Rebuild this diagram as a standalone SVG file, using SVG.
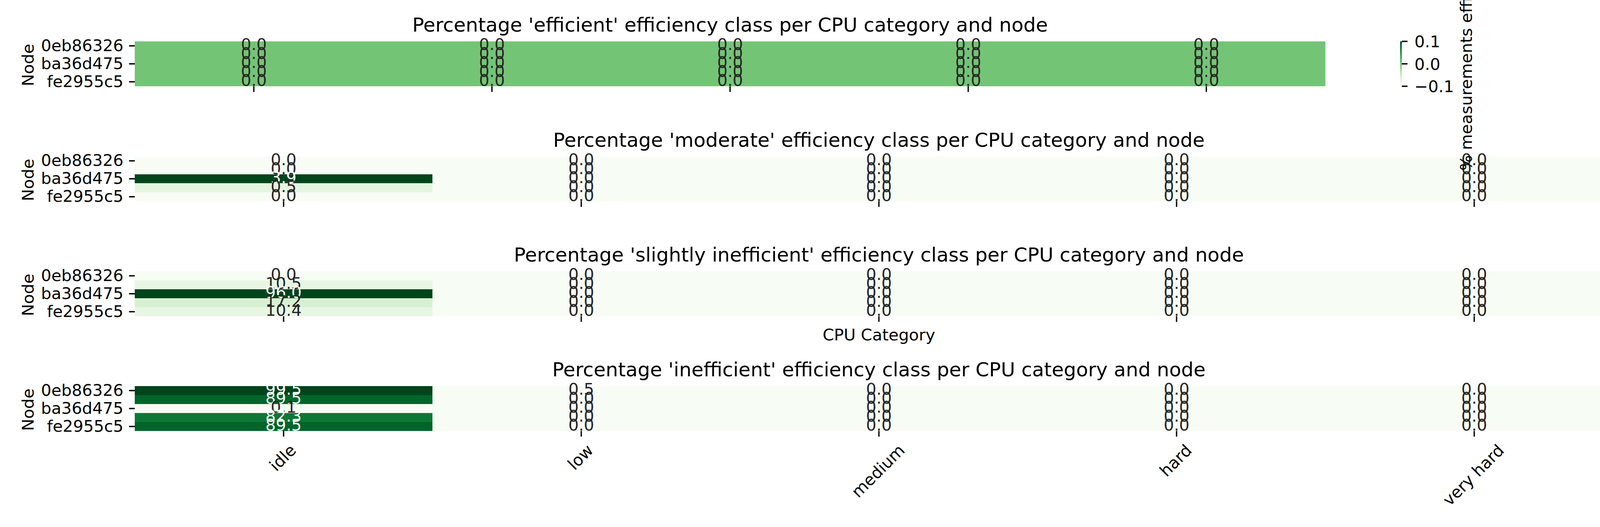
<svg xmlns="http://www.w3.org/2000/svg" width="4200" height="1350" viewBox="0 0 4200 1350">
<defs>
<style>
text { font-family: "DejaVu Sans", "Liberation Sans", sans-serif; }
.lab { font-size: 41.67px; fill: #000; }
.yl { font-size: 41.67px; fill: #000; text-anchor: end; }
.ttl { font-size: 50px; fill: #000; text-anchor: middle; }
.an { font-size: 41.67px; fill: #262626; text-anchor: middle; }
.aw { fill: #ffffff; }
.tk { stroke: #000; stroke-width: 3.33; fill: none; }
.mid { text-anchor: middle; }
</style>
<linearGradient id="greens" x1="0" y1="1" x2="0" y2="0">
<stop offset="0" stop-color="#f7fcf5"/>
<stop offset="0.125" stop-color="#e5f5e0"/>
<stop offset="0.25" stop-color="#c7e9c0"/>
<stop offset="0.375" stop-color="#a1d99b"/>
<stop offset="0.5" stop-color="#74c476"/>
<stop offset="0.625" stop-color="#41ab5d"/>
<stop offset="0.75" stop-color="#238b45"/>
<stop offset="0.875" stop-color="#006d2c"/>
<stop offset="1" stop-color="#00441b"/>
</linearGradient>
</defs>
<rect x="0" y="0" width="4200" height="1350" fill="#ffffff"/>

<!-- Heatmap 1: efficient -->
<g id="heatmap-efficient">
<rect x="345" y="106" width="3048" height="115" fill="#74c476"/>
<text class="ttl" x="1869" y="81">Percentage 'efficient' efficiency class per CPU category and node</text>
<text class="lab mid" transform="translate(86,166.5) rotate(-90)">Node</text>
<path class="tk" d="M330.4 117.5H345M330.4 163.5H345M330.4 209.5H345"/>
<text class="yl" x="316" y="130.5">0eb86326</text>
<text class="yl" x="316" y="176.5">ba36d475</text>
<text class="yl" x="316" y="222.5">fe2955c5</text>
<path class="tk" d="M649.8 221V235.6M1259.4 221V235.6M1869 221V235.6M2478.6 221V235.6M3088.2 221V235.6"/>
<g class="an">
<text x="649.8" y="128">0.0</text><text x="1259.4" y="128">0.0</text><text x="1869" y="128">0.0</text><text x="2478.6" y="128">0.0</text><text x="3088.2" y="128">0.0</text>
<text x="649.8" y="151">0.0</text><text x="1259.4" y="151">0.0</text><text x="1869" y="151">0.0</text><text x="2478.6" y="151">0.0</text><text x="3088.2" y="151">0.0</text>
<text x="649.8" y="174">0.0</text><text x="1259.4" y="174">0.0</text><text x="1869" y="174">0.0</text><text x="2478.6" y="174">0.0</text><text x="3088.2" y="174">0.0</text>
<text x="649.8" y="197">0.0</text><text x="1259.4" y="197">0.0</text><text x="1869" y="197">0.0</text><text x="2478.6" y="197">0.0</text><text x="3088.2" y="197">0.0</text>
<text x="649.8" y="220">0.0</text><text x="1259.4" y="220">0.0</text><text x="1869" y="220">0.0</text><text x="2478.6" y="220">0.0</text><text x="3088.2" y="220">0.0</text>
</g>
</g>

<!-- Colorbar -->
<g id="colorbar">
<rect x="3584.3" y="106" width="4.4" height="115" fill="url(#greens)"/>
<path class="tk" d="M3588.7 106H3603.3M3588.7 163.5H3603.3M3588.7 221H3603.3"/>
<text class="lab" x="3621" y="121">0.1</text>
<text class="lab" x="3621" y="178.5">0.0</text>
<text class="lab" x="3621" y="236">−0.1</text>
</g>

<!-- Heatmap 2: moderate -->
<g id="heatmap-moderate">
<rect x="345" y="400.5" width="3810" height="115" fill="#f7fcf5"/>
<rect x="345" y="446.5" width="762" height="23" fill="#00441b"/>
<rect x="345" y="469.5" width="762" height="23" fill="#e4f5df"/>
<text class="ttl" x="2250" y="375.5">Percentage 'moderate' efficiency class per CPU category and node</text>
<text class="lab mid" transform="translate(86,461) rotate(-90)">Node</text>
<path class="tk" d="M330.4 412H345M330.4 458H345M330.4 504H345"/>
<text class="yl" x="316" y="425">0eb86326</text>
<text class="yl" x="316" y="471">ba36d475</text>
<text class="yl" x="316" y="517">fe2955c5</text>
<path class="tk" d="M726 515.5V530.1M1488 515.5V530.1M2250 515.5V530.1M3012 515.5V530.1M3774 515.5V530.1"/>
<g class="an">
<text x="726" y="422.5">0.0</text><text x="1488" y="422.5">0.0</text><text x="2250" y="422.5">0.0</text><text x="3012" y="422.5">0.0</text><text x="3774" y="422.5">0.0</text>
<text x="726" y="445.5">0.0</text><text x="1488" y="445.5">0.0</text><text x="2250" y="445.5">0.0</text><text x="3012" y="445.5">0.0</text><text x="3774" y="445.5">0.0</text>
<text x="726" y="468.5" class="aw">3.9</text><text x="1488" y="468.5">0.0</text><text x="2250" y="468.5">0.0</text><text x="3012" y="468.5">0.0</text><text x="3774" y="468.5">0.0</text>
<text x="726" y="491.5">0.5</text><text x="1488" y="491.5">0.0</text><text x="2250" y="491.5">0.0</text><text x="3012" y="491.5">0.0</text><text x="3774" y="491.5">0.0</text>
<text x="726" y="514.5">0.0</text><text x="1488" y="514.5">0.0</text><text x="2250" y="514.5">0.0</text><text x="3012" y="514.5">0.0</text><text x="3774" y="514.5">0.0</text>
</g>
</g>

<!-- Heatmap 3: slightly inefficient -->
<g id="heatmap-slightly-inefficient">
<rect x="345" y="695" width="3810" height="115" fill="#f7fcf5"/>
<rect x="345" y="718" width="762" height="23" fill="#e7f6e3"/>
<rect x="345" y="741" width="762" height="23" fill="#00441b"/>
<rect x="345" y="764" width="762" height="23" fill="#d8f0d2"/>
<rect x="345" y="787" width="762" height="23" fill="#e7f6e3"/>
<text class="ttl" x="2250" y="669.5">Percentage 'slightly inefficient' efficiency class per CPU category and node</text>
<text class="lab mid" transform="translate(86,755.5) rotate(-90)">Node</text>
<path class="tk" d="M330.4 706.5H345M330.4 752.5H345M330.4 798.5H345"/>
<text class="yl" x="316" y="719.5">0eb86326</text>
<text class="yl" x="316" y="765.5">ba36d475</text>
<text class="yl" x="316" y="811.5">fe2955c5</text>
<path class="tk" d="M726 810V824.6M1488 810V824.6M2250 810V824.6M3012 810V824.6M3774 810V824.6"/>
<text class="lab mid" x="2250" y="872">CPU Category</text>
<g class="an">
<text x="726" y="717">0.0</text><text x="1488" y="717">0.0</text><text x="2250" y="717">0.0</text><text x="3012" y="717">0.0</text><text x="3774" y="717">0.0</text>
<text x="726" y="740">10.5</text><text x="1488" y="740">0.0</text><text x="2250" y="740">0.0</text><text x="3012" y="740">0.0</text><text x="3774" y="740">0.0</text>
<text x="726" y="763" class="aw">96.0</text><text x="1488" y="763">0.0</text><text x="2250" y="763">0.0</text><text x="3012" y="763">0.0</text><text x="3774" y="763">0.0</text>
<text x="726" y="786">17.2</text><text x="1488" y="786">0.0</text><text x="2250" y="786">0.0</text><text x="3012" y="786">0.0</text><text x="3774" y="786">0.0</text>
<text x="726" y="809">10.4</text><text x="1488" y="809">0.0</text><text x="2250" y="809">0.0</text><text x="3012" y="809">0.0</text><text x="3774" y="809">0.0</text>
</g>
</g>

<!-- Heatmap 4: inefficient -->
<g id="heatmap-inefficient">
<rect x="345" y="989" width="3810" height="115" fill="#f7fcf5"/>
<rect x="345" y="989" width="762" height="23" fill="#00441b"/>
<rect x="345" y="1012" width="762" height="23" fill="#006529"/>
<rect x="345" y="1058" width="762" height="23" fill="#0d7836"/>
<rect x="345" y="1081" width="762" height="23" fill="#006529"/>
<text class="ttl" x="2250" y="963.5">Percentage 'inefficient' efficiency class per CPU category and node</text>
<text class="lab mid" transform="translate(86,1049.5) rotate(-90)">Node</text>
<path class="tk" d="M330.4 1000.5H345M330.4 1046.5H345M330.4 1092.5H345"/>
<text class="yl" x="316" y="1013.5">0eb86326</text>
<text class="yl" x="316" y="1059.5">ba36d475</text>
<text class="yl" x="316" y="1105.5">fe2955c5</text>
<path class="tk" d="M726 1104V1118.6M1488 1104V1118.6M2250 1104V1118.6M3012 1104V1118.6M3774 1104V1118.6"/>
<text class="lab mid" transform="translate(734.1,1182.8) rotate(-45)">idle</text>
<text class="lab mid" transform="translate(1496.1,1181.4) rotate(-45)">low</text>
<text class="lab mid" transform="translate(2258.1,1216.8) rotate(-45)">medium</text>
<text class="lab mid" transform="translate(3020.1,1190) rotate(-45)">hard</text>
<text class="lab mid" transform="translate(3782.1,1227.2) rotate(-45)">very hard</text>
<g class="an">
<text x="726" y="1011" class="aw">99.5</text><text x="1488" y="1011">0.5</text><text x="2250" y="1011">0.0</text><text x="3012" y="1011">0.0</text><text x="3774" y="1011">0.0</text>
<text x="726" y="1034" class="aw">89.5</text><text x="1488" y="1034">0.0</text><text x="2250" y="1034">0.0</text><text x="3012" y="1034">0.0</text><text x="3774" y="1034">0.0</text>
<text x="726" y="1057">0.1</text><text x="1488" y="1057">0.0</text><text x="2250" y="1057">0.0</text><text x="3012" y="1057">0.0</text><text x="3774" y="1057">0.0</text>
<text x="726" y="1080" class="aw">82.3</text><text x="1488" y="1080">0.0</text><text x="2250" y="1080">0.0</text><text x="3012" y="1080">0.0</text><text x="3774" y="1080">0.0</text>
<text x="726" y="1103" class="aw">89.5</text><text x="1488" y="1103">0.0</text><text x="2250" y="1103">0.0</text><text x="3012" y="1103">0.0</text><text x="3774" y="1103">0.0</text>
</g>
</g>

<!-- Colorbar label (drawn last, overlaps heatmap 2) -->
<g id="colorbar-label">
<text class="lab mid" transform="translate(3768,163.5) rotate(-90)">% measurements efficient</text>
</g>
</svg>
